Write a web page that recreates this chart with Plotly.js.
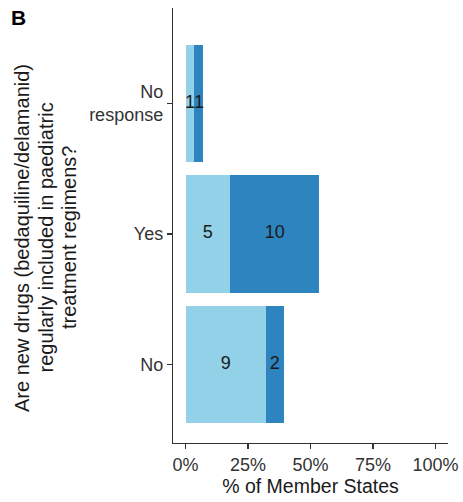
<!DOCTYPE html>
<html>
<head>
<meta charset="utf-8">
<script src="https://cdn.plot.ly/plotly-3.0.1.min.js"></script>
<style>html,body{margin:0;padding:0;background:#fff;}#chart{width:463px;height:502px;}</style>
</head>
<body>
<div id="chart"></div>
<script>
const categories = ['No', 'Yes', 'No<br>response'];
const seriesNames = ['Group 1', 'Group 2'];
const lightCounts = [9, 5, 1];
const darkCounts = [2, 10, 1];
const xTickVals = [0, 25, 50, 75, 100];
const xTickText = ['0%', '25%', '50%', '75%', '100%'];
const yTitleLines = ['Are new drugs (bedaquiline/delamanid)', 'regularly included in paediatric', 'treatment regimens?'];

const total = lightCounts.reduce((a, b) => a + b, 0) + darkCounts.reduce((a, b) => a + b, 0);
const lightPct = lightCounts.map(v => v / total * 100);
const darkPct = darkCounts.map(v => v / total * 100);

const FONT = 'Liberation Sans, Arial, Helvetica, sans-serif';
const LIGHT = '#93d1e8';
const DARK = '#2d84bf';

const PL = 173, PR = 15, PT = 8, PB = 59;
const PW = 463 - PL - PR, PH = 502 - PT - PB;

const traces = [
  {type: 'bar', orientation: 'h', name: seriesNames[0], y: categories, x: lightPct,
   marker: {color: LIGHT, line: {width: 0}}, width: 0.9, hoverinfo: 'skip'},
  {type: 'bar', orientation: 'h', name: seriesNames[1], y: categories, x: darkPct,
   marker: {color: DARK, line: {width: 0}}, width: 0.9, hoverinfo: 'skip'},
  {type: 'scatter', mode: 'text', y: categories, x: lightPct.map(v => v / 2),
   text: lightCounts.map(String), textfont: {family: FONT, size: 18, color: '#1a1a1a'},
   cliponaxis: false, hoverinfo: 'skip'},
  {type: 'scatter', mode: 'text', y: categories, x: darkPct.map((v, i) => lightPct[i] + v / 2),
   text: darkCounts.map(String), textfont: {family: FONT, size: 18, color: '#1a1a1a'},
   cliponaxis: false, hoverinfo: 'skip'}
];

const titleX = [22, 45.5, 69];
const annotations = [
  {text: '<b>B</b>', xref: 'paper', yref: 'paper', x: -PL / PW, y: 1 + PT / PH,
   xanchor: 'left', yanchor: 'top', xshift: 9, yshift: -4, showarrow: false,
   font: {family: FONT, size: 21, color: '#000'}}
];
yTitleLines.forEach((line, i) => {
  annotations.push({text: line, xref: 'paper', yref: 'paper', x: (titleX[i] - PL) / PW, y: 1 - (238 - PT) / PH,
    xanchor: 'center', yanchor: 'middle', textangle: -90, showarrow: false,
    font: {family: FONT, size: 20, color: '#1a1a1a'}});
});

const layout = {
  width: 463, height: 502,
  margin: {l: PL, r: PR, t: PT, b: PB, pad: 0},
  paper_bgcolor: '#ffffff', plot_bgcolor: '#ffffff',
  barmode: 'stack', showlegend: false,
  font: {family: FONT, color: '#000'},
  xaxis: {
    range: [-5, 105], tickvals: xTickVals, ticktext: xTickText,
    showgrid: false, zeroline: false, showline: true, linecolor: '#333', linewidth: 1.2,
    ticks: 'outside', ticklen: 5, tickcolor: '#333', tickwidth: 1.2,
    tickfont: {family: FONT, size: 18, color: '#333'},
    title: {text: '% of Member States', font: {family: FONT, size: 19.5, color: '#1a1a1a'}, standoff: 3},
    automargin: false, fixedrange: true
  },
  yaxis: {
    type: 'category', categoryorder: 'array', categoryarray: categories,
    range: [-0.6, 2.73],
    showgrid: false, zeroline: false, showline: true, linecolor: '#333', linewidth: 1.2,
    ticks: 'outside', ticklen: 5, tickcolor: '#333', tickwidth: 1.2,
    tickfont: {family: FONT, size: 18, color: '#333'},
    automargin: false, fixedrange: true
  },
  annotations: annotations
};

Plotly.newPlot('chart', traces, layout, {displayModeBar: false, staticPlot: true});
</script>
</body>
</html>
